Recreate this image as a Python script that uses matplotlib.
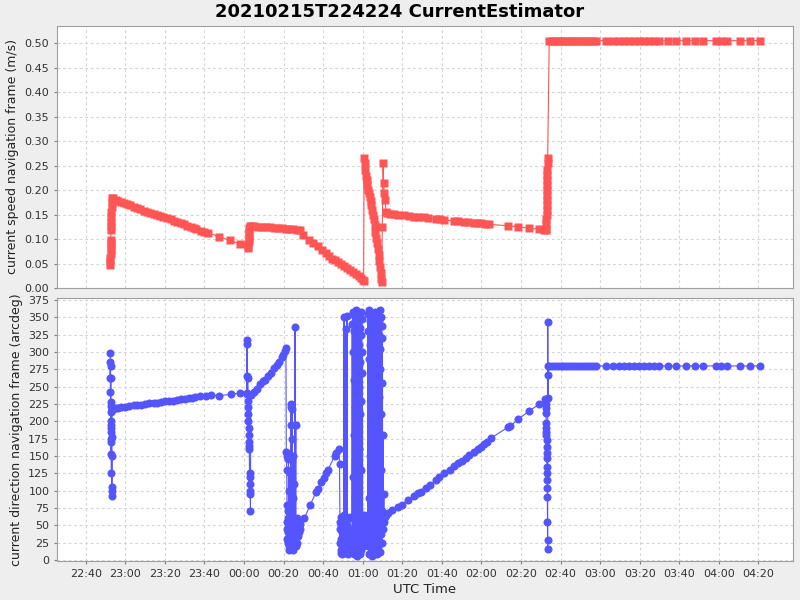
import numpy as np
import pandas as pd
import matplotlib
matplotlib.use('Agg')
import matplotlib.pyplot as plt
import matplotlib.dates as mdates

## time axis: minutes after 2021-02-15 22:00 UTC
T0 = pd.Timestamp('2021-02-15 22:00')

## ---------------- current speed (m/s) ----------------
spd_t_start = [52.4, 52.45, 52.5, 52.55, 52.6, 52.65, 52.7, 52.75, 52.8, 52.85, 52.9,
               52.95, 53.0, 53.05, 53.1, 53.2]
spd_v_start = [0.047, 0.055, 0.062, 0.070, 0.078, 0.085, 0.092, 0.097, 0.118, 0.126, 0.135,
               0.145, 0.155, 0.165, 0.175, 0.184]

spd_t_decay1 = [54.0, 55.2, 56.5, 58.0, 59.5, 61.0, 62.5, 64.3, 66.0, 67.5, 69.4, 71.0, 72.5,
                74.4, 76.0, 77.5, 79.0, 81.0, 83.0, 84.5, 86.0, 88.1, 89.5, 91.0, 93.1, 94.5,
                96.0, 98.2, 100.0, 101.7, 107.3, 112.9, 117.9]
spd_v_decay1 = [0.183, 0.180, 0.178, 0.176, 0.174, 0.172, 0.169, 0.166, 0.163, 0.161, 0.158,
                0.156, 0.153, 0.151, 0.149, 0.147, 0.145, 0.143, 0.140, 0.137, 0.135, 0.132,
                0.130, 0.127, 0.124, 0.122, 0.120, 0.117, 0.115, 0.113, 0.105, 0.097, 0.090]

spd_t_jump = [122.0, 122.1, 122.2, 122.3, 122.4, 122.5, 122.6, 122.7, 122.8]
spd_v_jump = [0.082, 0.086, 0.090, 0.095, 0.100, 0.108, 0.115, 0.122, 0.127]

spd_t_decay2 = [123.5, 125.0, 127.0, 129.0, 131.0, 133.0, 135.0, 137.0, 139.0, 141.0, 143.0,
                145.0, 147.0, 148.5, 150.0, 152.9, 155.0, 157.4, 159.5, 161.5, 163.0, 164.5,
                166.0, 167.5, 169.0, 170.6, 172.0, 173.5, 175.1, 176.5, 178.0, 179.0, 180.2]
spd_v_decay2 = [0.126, 0.126, 0.125, 0.125, 0.124, 0.124, 0.123, 0.122, 0.122, 0.121, 0.120,
                0.120, 0.119, 0.118, 0.108, 0.098, 0.092, 0.085, 0.078, 0.072, 0.066, 0.060,
                0.057, 0.053, 0.049, 0.045, 0.041, 0.037, 0.033, 0.029, 0.025, 0.021, 0.017]

spd_t_spikes = [180.5, 180.7, 181.0, 181.3, 181.6, 182.0, 182.4, 182.8, 183.2, 183.6, 184.0,
                184.4, 184.8, 185.2, 185.6, 186.0, 186.4, 186.8, 187.2, 187.6, 188.0, 188.4,
                188.8, 189.1, 189.4, 189.6, 189.9, 190.3, 190.6, 190.9, 191.3, 191.8]
spd_v_spikes = [0.015, 0.265, 0.255, 0.240, 0.228, 0.220, 0.210, 0.200, 0.195, 0.185, 0.178,
                0.170, 0.160, 0.150, 0.140, 0.128, 0.115, 0.103, 0.092, 0.080, 0.068, 0.056,
                0.042, 0.030, 0.018, 0.012, 0.125, 0.255, 0.215, 0.195, 0.180, 0.155]

spd_t_decay3 = [192.5, 194.0, 196.0, 198.0, 201.0, 203.5, 206.0, 208.0, 211.0, 213.0, 217.0,
                219.0, 221.0, 226.0, 228.0, 231.0, 233.0, 236.5, 238.0, 240.0, 242.0, 244.0,
                253.6, 258.6, 264.2, 269.3, 271.5, 272.5]
spd_v_decay3 = [0.153, 0.152, 0.151, 0.150, 0.149, 0.148, 0.146, 0.145, 0.144, 0.143, 0.141,
                0.140, 0.139, 0.137, 0.136, 0.135, 0.134, 0.133, 0.132, 0.132, 0.131, 0.130,
                0.127, 0.125, 0.122, 0.120, 0.119, 0.118]

spd_t_rise = [272.8, 272.85, 272.9, 272.95, 273.0, 273.05, 273.1, 273.15, 273.2, 273.25,
              273.3, 273.35, 273.4, 273.45, 273.5]
spd_v_rise = [0.120, 0.130, 0.140, 0.150, 0.160, 0.170, 0.180, 0.190, 0.200, 0.210,
              0.220, 0.230, 0.240, 0.255, 0.265]

## flat section at the end, shared by both series
flat_t = [274.3, 275.5, 277.0, 278.5, 280.0, 281.5, 283.0, 284.5, 286.0, 287.5, 289.0, 290.5,
          292.0, 293.5, 295.0, 296.5, 298.0, 303.2, 306.7, 309.7, 312.3, 314.8, 317.3, 319.9,
          322.4, 324.9, 327.4, 330.0, 334.5, 338.6, 343.6, 348.2, 352.2, 358.8, 361.3, 363.9,
          370.5, 376.0, 380.6]
spd_v_flat = [0.505] * len(flat_t)

## ---------------- current direction (arcdeg) ----------------
dir_t_start = [52.40, 52.44, 52.48, 52.52, 52.56, 52.60, 52.64, 52.68, 52.72, 52.76, 52.80,
               52.84, 52.88, 52.92, 52.96, 53.00, 53.04, 53.08, 53.12, 53.16, 53.20, 53.24,
               53.28, 53.32]
dir_v_start = [298, 262, 285, 242, 280, 228, 262, 200, 222, 185, 195, 170, 213, 153, 190,
               125, 175, 105, 150, 93, 100, 178, 217, 218]

dir_t_drift = [53.8, 55.2, 56.5, 58.0, 60.0, 62.0, 64.3, 66.0, 68.0, 70.0, 72.0, 74.4, 76.0,
               78.0, 80.0, 82.0, 84.0, 86.0, 88.0, 90.0, 92.0, 93.5, 95.5, 98.0, 101.0, 103.5,
               107.3, 113.4, 117.9]
dir_v_drift = [218, 219, 219, 220, 221, 222, 223, 224, 224, 225, 226, 227, 227, 228, 229, 229,
               230, 231, 232, 232, 233, 234, 235, 236, 237, 238, 237, 239, 241]

dir_t_c2 = [121.3, 121.4, 121.5, 121.6, 121.7, 121.8, 121.9, 122.0, 122.1, 122.2, 122.3,
            122.4, 122.5, 122.6, 122.7, 122.8, 122.9, 123.0, 123.1, 123.2, 123.3, 123.4]
dir_v_c2 = [241, 318, 240, 312, 265, 230, 262, 220, 210, 200, 190, 180, 170, 165, 160, 125,
            120, 110, 100, 95, 70, 238]

dir_t_rise1 = [125.0, 126.5, 128.1, 129.5, 130.6, 132.0, 133.6, 135.1, 136.5, 137.7, 139.0,
               139.7, 140.5, 141.2]
dir_v_rise1 = [242, 247, 254, 258, 260, 265, 270, 277, 282, 286, 293, 296, 301, 306]

dir_t_c3 = [141.4, 141.5, 141.6, 141.7, 141.8, 141.9, 142.0, 142.1, 142.2, 142.3, 142.4,
            142.5, 142.6, 142.7, 142.8, 142.9, 143.0, 143.1, 143.2, 143.3, 143.4, 143.5,
            143.7, 143.8, 143.9, 144.0, 144.1, 144.2, 144.3, 144.4, 144.5, 144.6, 144.7,
            144.8, 144.9, 145.0, 145.1, 145.3, 145.5, 145.6, 145.8, 145.9, 146.0, 146.2,
            146.3, 146.5, 146.7, 146.9, 147.1, 147.3, 147.6, 147.9, 148.2, 148.5]
dir_v_c3 = [156, 150, 130, 80, 55, 45, 30, 60, 25, 70, 40, 145, 20, 50, 100, 35, 15, 55, 125,
            30, 65, 20, 225, 220, 45, 195, 25, 175, 40, 218, 60, 20, 90, 35, 150, 15, 50, 25,
            110, 40, 336, 55, 30, 195, 20, 45, 25, 60, 35, 50, 40, 55, 45, 52]

dir_t_rise2 = [150.5, 153.4, 156.5, 157.4, 159.0, 160.2, 161.5, 162.5, 165.8, 166.5, 168.0]
dir_v_rise2 = [60, 79, 98, 103, 112, 118, 125, 130, 150, 155, 160]

dir_t_c4 = [168.3, 168.5, 168.6, 168.7, 168.8, 168.9, 169.0, 169.1, 169.2, 169.3, 169.4,
            169.6, 169.8, 170.0, 170.2, 170.4, 170.6, 170.7, 170.8, 171.0, 171.2, 171.4,
            171.6, 171.7, 171.9, 172.1, 172.2, 172.4, 172.6, 172.8, 173.0, 173.2, 173.4,
            173.6, 173.8, 174.0]
dir_v_c4 = [138, 55, 25, 45, 10, 62, 30, 15, 50, 8, 40, 20, 58, 12, 35, 65, 350, 45, 15, 30,
            55, 10, 333, 40, 20, 352, 50, 25, 60, 8, 45, 18, 38, 62, 12, 30]

dir_t_band1 = [174.6, 174.7, 174.8, 174.9, 175.0, 175.1, 175.2, 175.3, 175.4, 175.5, 175.6,
               175.7, 175.8, 175.9, 176.0, 176.1, 176.2, 176.3, 176.4, 176.5, 176.6, 176.7,
               176.8, 176.9, 177.0, 177.1, 177.2, 177.3, 177.4, 177.5, 177.6, 177.7, 177.8,
               177.9, 178.0, 178.1, 178.2, 178.3, 178.4, 178.5, 178.6, 178.7, 178.8, 178.9,
               179.0, 179.1, 179.2, 179.3, 179.4, 179.5, 179.6, 179.7, 179.8, 179.9, 180.0,
               180.1]
dir_v_band1 = [20, 340, 60, 355, 15, 300, 120, 358, 40, 260, 8, 330, 180, 350, 30, 220, 90,
               345, 10, 290, 150, 360, 50, 240, 5, 320, 200, 355, 70, 275, 20, 340, 110, 310,
               12, 250, 160, 352, 35, 285, 8, 335, 210, 358, 45, 230, 15, 325, 130, 348, 25,
               270, 60, 300, 20, 55]

dir_t_gap = [180.4, 180.7, 181.0, 181.3, 181.6, 182.0, 182.3, 182.6]
dir_v_gap = [40, 65, 25, 55, 35, 60, 30, 50]

dir_t_band2 = [182.7, 182.8, 182.9, 183.0, 183.1, 183.2, 183.3, 183.4, 183.5, 183.6, 183.7,
               183.8, 183.9, 184.0, 184.1, 184.2, 184.3, 184.4, 184.5, 184.6, 184.7, 184.8,
               184.9, 185.0, 185.1, 185.2, 185.3, 185.4, 185.5, 185.6, 185.7, 185.8, 185.9,
               186.0, 186.1, 186.2, 186.3, 186.4, 186.5, 186.6, 186.7, 186.8, 186.9, 187.0,
               187.1, 187.2, 187.3, 187.4, 187.5, 187.6, 187.7, 187.8, 187.9, 188.0, 188.1,
               188.2, 188.3, 188.4, 188.5, 188.6, 188.7, 188.8, 188.9, 189.0, 189.1, 189.2,
               189.3, 189.4, 189.5, 189.6, 189.7, 189.8, 189.9, 190.0, 190.1, 190.3, 190.5,
               190.7, 190.9]
dir_v_band2 = [355, 20, 330, 90, 360, 40, 290, 8, 345, 150, 310, 25, 358, 200, 60, 335, 12,
               270, 120, 352, 35, 240, 5, 320, 175, 356, 50, 300, 15, 260, 100, 348, 30, 220,
               10, 340, 140, 358, 65, 280, 20, 315, 190, 350, 40, 250, 8, 330, 110, 355, 55,
               295, 18, 235, 80, 345, 28, 325, 160, 360, 45, 275, 12, 305, 130, 350, 38, 210,
               60, 338, 25, 255, 70, 320, 45, 180, 60, 95, 55]

dir_t_rise3 = [191.2, 191.8, 192.8, 195.0, 197.9, 200.0, 203.0, 206.0, 208.0, 209.5, 212.1,
               214.0, 217.1, 218.6, 221.2, 224.0, 226.2, 228.0, 230.0, 232.3, 233.8, 236.4,
               238.4, 239.9, 241.4, 243.0, 245.0, 253.6, 254.5, 258.6, 264.2, 269.3, 272.3]
dir_v_rise3 = [62, 65, 68, 72, 77, 80, 87, 93, 97, 98, 104, 108, 115, 120, 125, 130, 136,
               140, 143, 147, 151, 156, 160, 163, 167, 170, 176, 192, 193, 203, 215, 225, 232]

dir_t_c5 = [272.6, 272.65, 272.7, 272.75, 272.8, 272.85, 272.9, 272.95, 273.0, 273.05,
            273.1, 273.15, 273.2, 273.25, 273.3, 273.35, 273.4, 273.45, 273.5, 273.55,
            273.6, 273.7, 273.8]
dir_v_c5 = [225, 219, 212, 198, 190, 185, 180, 173, 163, 155, 147, 134, 125, 115, 104, 91,
            55, 29, 16, 343, 234, 267, 280]

dir_v_flat = [280] * len(flat_t)


def to_time(minutes):
    return T0 + pd.to_timedelta(np.asarray(minutes), unit='min')


spd_t = to_time(spd_t_start + spd_t_decay1 + spd_t_jump + spd_t_decay2 + spd_t_spikes
                + spd_t_decay3 + spd_t_rise + flat_t)
spd_v = (spd_v_start + spd_v_decay1 + spd_v_jump + spd_v_decay2 + spd_v_spikes
         + spd_v_decay3 + spd_v_rise + spd_v_flat)

dir_t = to_time(dir_t_start + dir_t_drift + dir_t_c2 + dir_t_rise1 + dir_t_c3 + dir_t_rise2
                + dir_t_c4 + dir_t_band1 + dir_t_gap + dir_t_band2 + dir_t_rise3 + dir_t_c5
                + flat_t)
dir_v = (dir_v_start + dir_v_drift + dir_v_c2 + dir_v_rise1 + dir_v_c3 + dir_v_rise2
         + dir_v_c4 + dir_v_band1 + dir_v_gap + dir_v_band2 + dir_v_rise3 + dir_v_c5
         + dir_v_flat)

## ---------------- plot ----------------
plt.rcParams['font.family'] = ['DejaVu Sans']
bg = '#EEEEEE'
fig = plt.figure(figsize=(8, 6), dpi=100, facecolor=bg)

L, R = 57 / 800, 793 / 800
ax1 = fig.add_axes([L, 1 - 288 / 600, R - L, (288 - 26) / 600])
ax2 = fig.add_axes([L, 1 - 561 / 600, R - L, (561 - 298) / 600], sharex=ax1)

ax1.plot(spd_t, spd_v, color='#FF5555', lw=0.8, marker='s', ms=5.8, mec='none', zorder=3)
ax2.plot(dir_t, dir_v, color='#5555FF', lw=0.8, marker='o', ms=5.8, mec='none', zorder=3)

xmin = T0 + pd.Timedelta(minutes=25.5)
xmax = T0 + pd.Timedelta(minutes=397.5)
ax1.set_xlim(xmin, xmax)
ax1.set_ylim(0, 0.535)
ax2.set_ylim(-1.5, 378)

ax1.set_yticks(np.arange(0, 0.501, 0.05))
ax1.yaxis.set_major_formatter(matplotlib.ticker.FormatStrFormatter('%.2f'))
ax2.set_yticks(np.arange(0, 376, 25))
ax2.xaxis.set_major_locator(mdates.MinuteLocator(byminute=[0, 20, 40]))
ax2.xaxis.set_major_formatter(mdates.DateFormatter('%H:%M'))

for ax in (ax1, ax2):
    ax.set_facecolor('white')
    ax.grid(True, color='#D5D5D5', ls=(0, (2.5, 2.5)), lw=0.8)
    ax.set_axisbelow(True)
    for s in ax.spines.values():
        s.set_color('#A0A0A0')
    ax.tick_params(colors='#808080', labelcolor='#333333', labelsize=8, length=2, width=0.8)
plt.setp(ax1.get_xticklabels(), visible=False)
ax1.tick_params(axis='x', length=0)

ax1.set_ylabel('current speed navigation frame (m/s)', fontsize=9, color='#222222', labelpad=4)
ax2.set_ylabel('current direction navigation frame (arcdeg)', fontsize=9, color='#222222', labelpad=4)
ax2.set_xlabel('UTC Time', fontsize=9.5, color='#222222', labelpad=3)
fig.suptitle('20210215T224224 CurrentEstimator', fontsize=13, fontweight='bold', y=0.995)

fig.savefig('out.png', dpi=100, facecolor=bg)
